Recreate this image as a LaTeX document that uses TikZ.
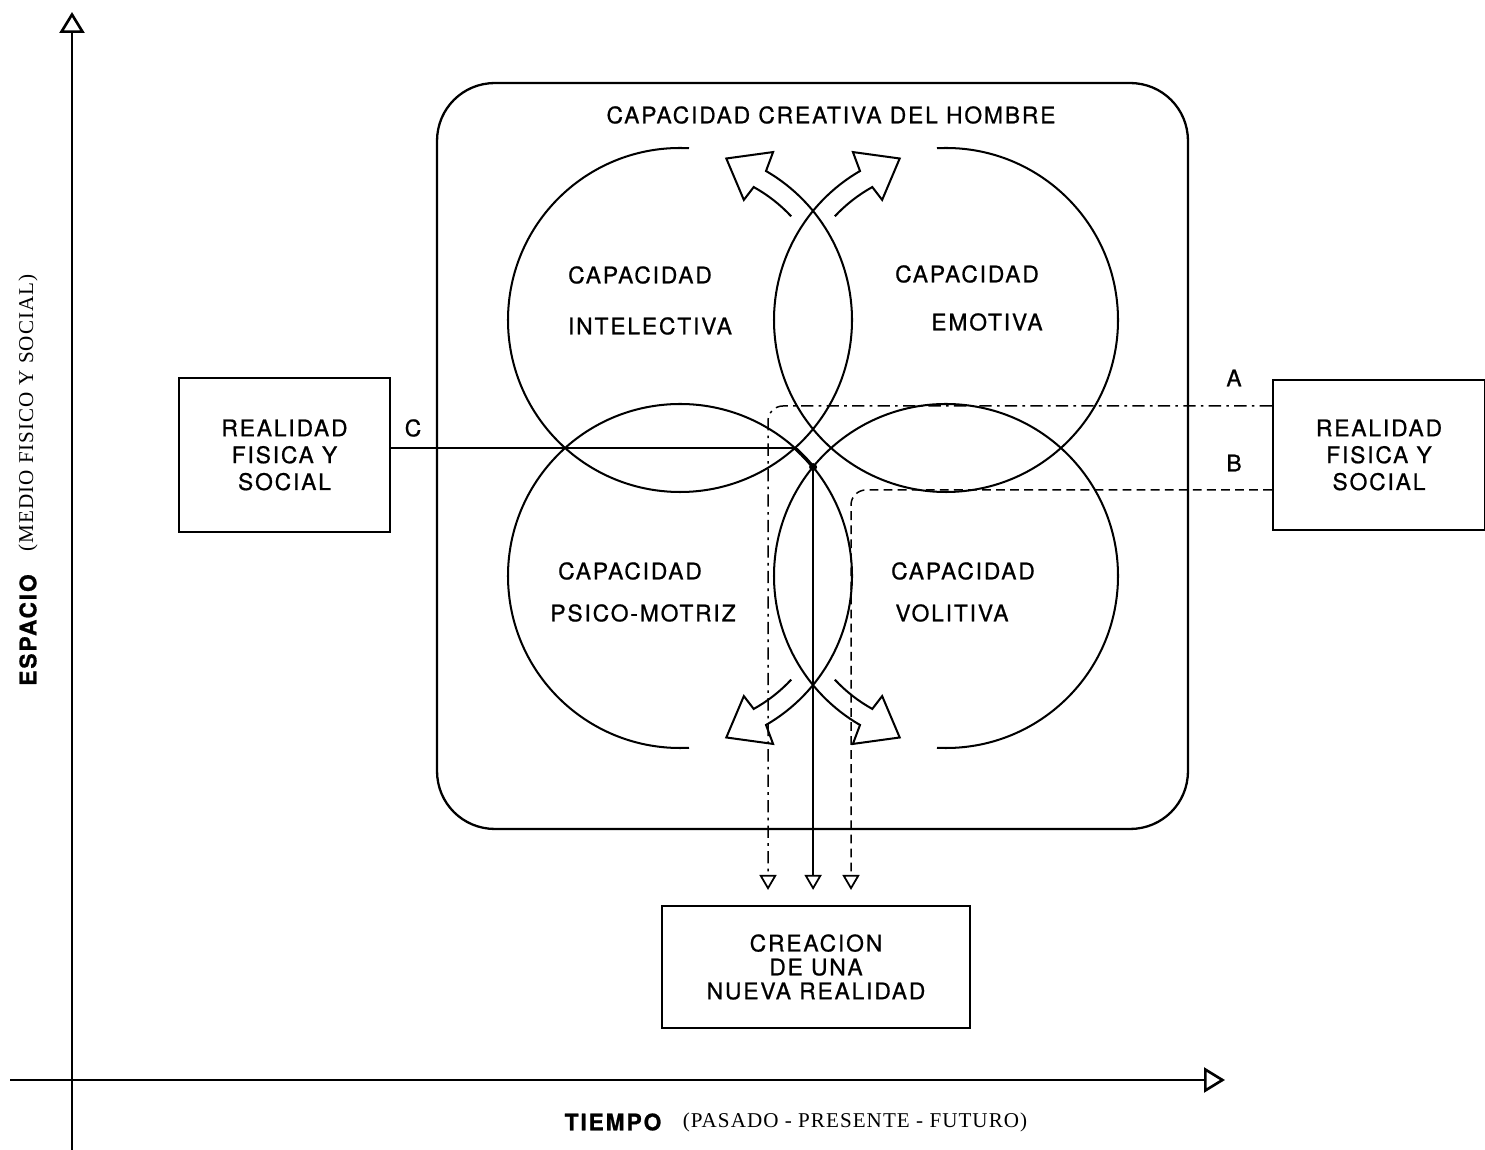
\documentclass[tikz,border=0pt]{standalone}
\usepackage{fontspec}
\setmainfont{TeX Gyre Heros}[LetterSpace=8,FakeBold=0.8]
\newfontfamily\romana{Liberation Serif}[LetterSpace=5]
\usetikzlibrary{arrows.meta,calc,positioning}

\newcommand\rotulo{\fontsize{13}{15.3}\selectfont}
\tikzset{
  trazo/.style={line width=1.15pt},
  caja/.style={draw, line width=1.2pt, align=center, inner sep=0pt, font=\rotulo},
  texto/.style={font=\rotulo, inner sep=1pt},
  flecha/.style={-{Triangle[open,length=0.3cm,width=0.34cm,line width=1pt]}, shorten >=0.3cm},
  eje/.style={line width=1.1pt, -{Triangle[open,length=0.42cm,width=0.5cm,line width=1.5pt]}},
  lineaA/.style={line width=0.85pt, dash pattern=on 7pt off 3pt on 1.5pt off 3pt, rounded corners=0.3cm},
  lineaB/.style={line width=0.85pt, dash pattern=on 5pt off 3pt, rounded corners=0.3cm},
}

\begin{document}
\begin{tikzpicture}[x=0.02cm,y=0.02cm]
\useasboundingbox (0,0) rectangle (1485,1150);

% ejes
\draw[eje] (72,0) -- (72,1138);
\draw[eje] (10,70) -- (1225,70);
\node[rotate=90, font=\rotulo\bfseries] (espacio) at (28,520) {ESPACIO};
\node[rotate=90, font=\romana\fontsize{12}{14}\selectfont] (medio) at (28,737) {(MEDIO FISICO Y SOCIAL)};
\node[font=\rotulo\bfseries] (tiempo) at (613,28) {TIEMPO};
\node[font=\romana\fontsize{12}{14}\selectfont] (pasado) at (855,28) {(PASADO - PRESENTE - FUTURO)};

% marco y cajas
\node[draw, line width=1.3pt, rounded corners=1.15cm, minimum width=15.02cm, minimum height=14.92cm] (marco) at (812.5,694) {};
\node[texto] (titulo) at (831,1035) {CAPACIDAD CREATIVA DEL HOMBRE};
\node[caja, minimum width=4.22cm, minimum height=3.08cm] (lbox) at (284.5,695) {REALIDAD\\FISICA Y\\SOCIAL};
\node[caja, minimum width=4.24cm, minimum height=3.0cm] (rbox) at (1379,695) {REALIDAD\\FISICA Y\\SOCIAL};
\node[caja, minimum width=6.16cm, minimum height=2.44cm, font=\fontsize{13}{13.6}\selectfont] (nueva) at (816,183) {CREACION\\DE UNA\\NUEVA REALIDAD};

% circulos
\coordinate (cTL) at (680,830);
\coordinate (cTR) at (946,830);
\coordinate (cBL) at (680,574);
\coordinate (cBR) at (946,574);

\draw[trazo] ($(cTL)+(87:172)$) arc[start angle=87,end angle=420,radius=172]
  -- ($(cTL)+(61:192)$) -- ($(cTL)+(74:168)$) -- ($(cTL)+(62:136)$) -- ($(cTL)+(61:152)$)
  arc[start angle=61,end angle=43,radius=152];
\draw[trazo] ($(cTR)+(93:172)$) arc[start angle=93,end angle=-240,radius=172]
  -- ($(cTR)+(119:192)$) -- ($(cTR)+(106:168)$) -- ($(cTR)+(118:136)$) -- ($(cTR)+(119:152)$)
  arc[start angle=119,end angle=137,radius=152];
\draw[trazo] ($(cBL)+(-87:172)$) arc[start angle=-87,end angle=-420,radius=172]
  -- ($(cBL)+(-61:192)$) -- ($(cBL)+(-74:168)$) -- ($(cBL)+(-62:136)$) -- ($(cBL)+(-61:152)$)
  arc[start angle=-61,end angle=-43,radius=152];
\draw[trazo] ($(cBR)+(-93:172)$) arc[start angle=-93,end angle=240,radius=172]
  -- ($(cBR)+(-119:192)$) -- ($(cBR)+(-106:168)$) -- ($(cBR)+(-118:136)$) -- ($(cBR)+(-119:152)$)
  arc[start angle=-119,end angle=-137,radius=152];

\node[texto] (ctl1) at (640,875) {CAPACIDAD};
\node[texto] (ctl2) at (650,824) {INTELECTIVA};
\node[texto] (ctr1) at (967,876) {CAPACIDAD};
\node[texto] (ctr2) at (987,828) {EMOTIVA};
\node[texto] (cbl1) at (630,579) {CAPACIDAD};
\node[texto] (cbl2) at (643,537) {PSICO-MOTRIZ};
\node[texto] (cbr1) at (963,579) {CAPACIDAD};
\node[texto] (cbr2) at (952,537) {VOLITIVA};

% lineas de entrada
\coordinate (dl) at ($(cBL)+(48.1:172)$);
\coordinate (db) at ($(cBL)+(39.3:172)$);
\coordinate (ya) at (0,744);
\coordinate (yb) at (0,660);
\coordinate (xa) at (768,0);
\coordinate (xb) at (851,0);

\draw[trazo] (lbox.east |- dl) -- (dl);
\draw[line width=2pt] (dl) arc[start angle=48.1,end angle=39.3,radius=172];
\fill (db) circle (4);
\draw[trazo, line width=1.4pt, flecha] (db) -- (db |- nueva.north);
\draw[lineaA, flecha] (rbox.west |- ya) -| (xa |- nueva.north);
\draw[lineaB, flecha] (rbox.west |- yb) -| (xb |- nueva.north);

\node[texto] (letraA) at (1234,772) {A};
\node[texto] (letraB) at (1234,687) {B};
\node[texto] (letraC) at (413,722) {C};
\end{tikzpicture}
\end{document}
